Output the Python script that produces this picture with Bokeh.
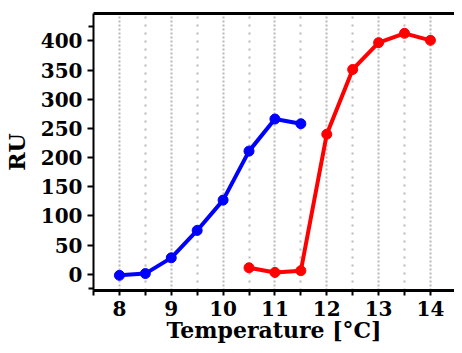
from bokeh.plotting import figure
from bokeh.models import Range1d, FixedTicker, LinearAxis
from bokeh.embed import file_html
from bokeh.resources import INLINE

# Data
temp_blue = [8.0, 8.5, 9.0, 9.5, 10.0, 10.5, 11.0, 11.5]
ru_blue = [-2, 1, 28, 75, 127, 211, 266, 258]
temp_red = [10.5, 11.0, 11.5, 12.0, 12.5, 13.0, 13.5, 14.0]
ru_red = [11, 3, 6, 240, 351, 397, 413, 401]

x_major = [8, 9, 10, 11, 12, 13, 14]
x_minor = [7.5, 8.5, 9.5, 10.5, 11.5, 12.5, 13.5]
y_major = [0, 50, 100, 150, 200, 250, 300, 350, 400]
y_minor = [-25, 425]

FONT = "DejaVu Serif"

p = figure(width=454, height=345, output_backend="svg", toolbar_location=None,
           x_range=Range1d(7.5, 14.464), y_range=Range1d(-28, 447),
           min_border_left=87, min_border_right=0, min_border_top=13, min_border_bottom=0,
           x_axis_label="Temperature [°C]", y_axis_label="RU")
p.outline_line_color = None
p.background_fill_color = "white"
p.border_fill_color = "white"

xt = FixedTicker(ticks=x_major, minor_ticks=x_minor)
yt = FixedTicker(ticks=y_major, minor_ticks=y_minor)
p.xaxis.ticker = xt
p.yaxis.ticker = yt

for ax in (p.xaxis, p.yaxis):
    ax.major_label_text_font = FONT
    ax.major_label_text_font_style = "bold"
    ax.major_label_text_font_size = "20px"
    ax.major_label_text_color = "black"
    ax.axis_label_text_font = FONT
    ax.axis_label_text_font_style = "bold"
    ax.axis_label_text_color = "black"
    ax.axis_line_color = "black"
    ax.major_tick_line_color = "black"
    ax.minor_tick_line_color = "black"
    ax.major_tick_in = 0
    ax.minor_tick_in = 0

p.xaxis.axis_line_width = 3
p.xaxis.major_tick_line_width = 2
p.xaxis.minor_tick_line_width = 2
p.xaxis.major_tick_out = 5
p.xaxis.minor_tick_out = 5
p.xaxis.major_label_standoff = 5
p.xaxis.axis_label_standoff = -2
p.xaxis.axis_label_text_font_size = "22px"

p.yaxis.axis_line_width = 2
p.yaxis.major_tick_line_width = 2
p.yaxis.minor_tick_line_width = 2
p.yaxis.major_tick_out = 6
p.yaxis.minor_tick_out = 5
p.yaxis.major_label_standoff = 5
p.yaxis.axis_label_standoff = 8
p.yaxis.axis_label_text_font_size = "22px"

# top border line
top = LinearAxis(ticker=FixedTicker(ticks=[]), major_label_text_font_size="0px",
                 axis_line_width=3, axis_line_color="black",
                 major_tick_out=0, minor_tick_out=0, major_tick_in=0, minor_tick_in=0)
p.add_layout(top, "above")

# grid
p.ygrid.grid_line_color = None
p.xgrid.ticker = xt
p.xgrid.grid_line_color = "#b8b8b8"
p.xgrid.grid_line_width = 2
p.xgrid.grid_line_dash = "2 2"
p.xgrid.minor_grid_line_color = "#b8b8b8"
p.xgrid.minor_grid_line_width = 2
p.xgrid.minor_grid_line_dash = "2 6"

p.line(temp_blue, ru_blue, line_color="#0000ff", line_width=4)
p.scatter(temp_blue, ru_blue, size=10, fill_color="#0000ff", line_color="#0000ff")
p.line(temp_red, ru_red, line_color="#ff0000", line_width=4)
p.scatter(temp_red, ru_red, size=10, fill_color="#ff0000", line_color="#ff0000")

open("out.html", "w").write(file_html(p, INLINE))
